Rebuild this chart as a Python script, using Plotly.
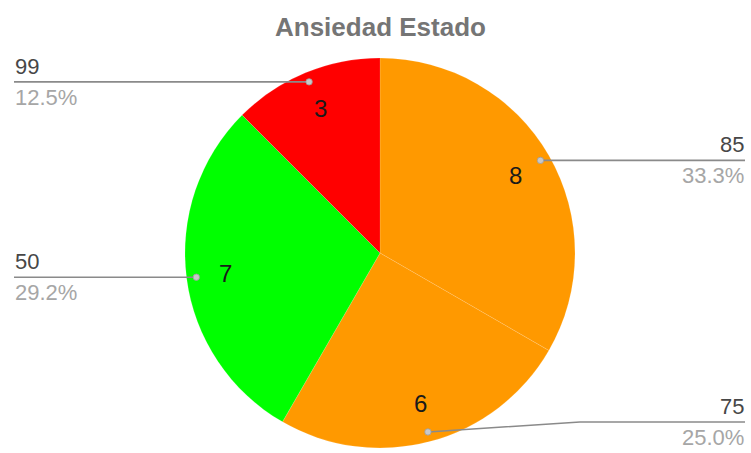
import math
import plotly.graph_objects as go

# Chart data
title_text = "Ansiedad Estado"
labels = ["85", "75", "50", "99"]
values = [8, 6, 7, 3]
colors = ["#ff9900", "#ff9900", "#00ff00", "#ff0000"]

W, H = 751, 453
CX, CY, R = 380, 253, 195          # pie centre / radius in pixels
LEFT_X, RIGHT_X = 14, 745          # label columns
LINE_Y_MIN, LINE_Y_MAX = 60, 422   # leader-line y limits

def px(x):
    return x / W

def py(y):
    return 1 - y / H

fig = go.Figure(go.Pie(
    labels=labels,
    values=values,
    sort=False,
    direction="clockwise",
    rotation=0,
    textinfo="none",
    hoverinfo="label+value+percent",
    marker=dict(colors=colors, line=dict(color="rgba(255,255,255,0.22)", width=0.6)),
    domain=dict(x=[px(CX - R), px(CX + R)], y=[py(CY + R), py(CY - R)]),
    showlegend=False,
))

total = sum(values)
shapes = []
annotations = []
start = 0.0
for lab, val in zip(labels, values):
    frac = val / total
    mid = (start + frac / 2) * 2 * math.pi
    start += frac
    sx, sy = math.sin(mid), -math.cos(mid)

    # value inside the slice
    annotations.append(dict(
        x=px(CX + 0.8 * R * sx), y=py(CY + 0.8 * R * sy),
        xref="paper", yref="paper", text=str(val), showarrow=False,
        font=dict(family="Arial", size=24, color="#1a1a1a"),
        xanchor="center", yanchor="middle",
    ))

    # leader line from a dot inside the slice to the label column
    dx, dy = CX + 0.95 * R * sx, CY + 0.95 * R * sy
    ly = min(max(dy, LINE_Y_MIN), LINE_Y_MAX)
    right = sx > 0
    end_x = RIGHT_X if right else LEFT_X
    if abs(ly - dy) > 1:
        elbow_x = dx + (152 if right else -152)
        path = f"M {px(dx)},{py(dy)} L {px(elbow_x)},{py(ly)} L {px(end_x)},{py(ly)}"
    else:
        path = f"M {px(dx)},{py(dy)} L {px(end_x)},{py(ly)}"
    shapes.append(dict(type="path", xref="paper", yref="paper", path=path,
                       line=dict(color="#8a8a8a", width=1.6)))
    rr = 3.2
    shapes.append(dict(type="circle", xref="paper", yref="paper",
                       x0=px(dx - rr), x1=px(dx + rr), y0=py(dy + rr), y1=py(dy - rr),
                       fillcolor="#c8c8c8", line=dict(color="#9a9a9a", width=0.8)))

    anchor = "right" if right else "left"
    annotations.append(dict(
        x=px(end_x), y=py(ly - 2), xref="paper", yref="paper",
        text=lab, showarrow=False, xanchor=anchor, yanchor="bottom",
        font=dict(family="Arial", size=22, color="#474747"), borderpad=0,
    ))
    annotations.append(dict(
        x=px(end_x), y=py(ly + 2), xref="paper", yref="paper",
        text=f"{frac * 100:.1f}%", showarrow=False, xanchor=anchor, yanchor="top",
        font=dict(family="Arial", size=22, color="#a6a6a6"), borderpad=0,
    ))

annotations.append(dict(
    x=px(CX), y=py(27), xref="paper", yref="paper", text=f"<b>{title_text}</b>",
    showarrow=False, xanchor="center", yanchor="middle",
    font=dict(family="Arial", size=26, color="#757575"),
))

fig.update_layout(
    width=W, height=H,
    margin=dict(l=0, r=0, t=0, b=0),
    paper_bgcolor="white", plot_bgcolor="white",
    shapes=shapes, annotations=annotations,
)

fig.write_html("out.html")
